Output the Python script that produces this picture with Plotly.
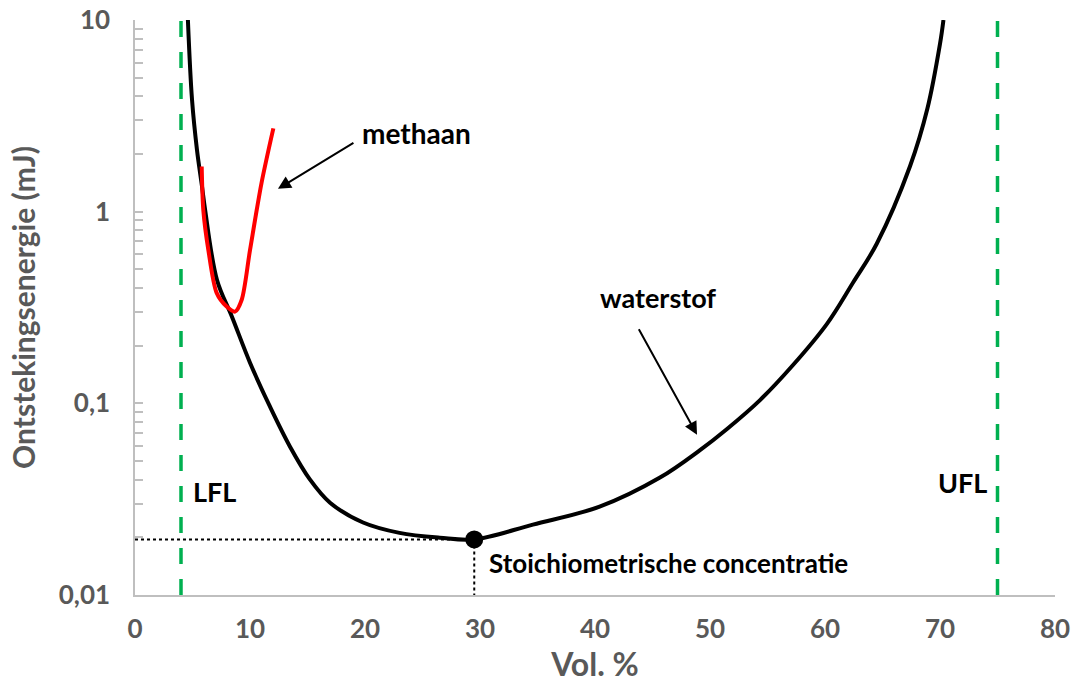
import plotly.graph_objects as go

# Minimum ignition energy versus concentration in air
h2_vol = [4.6, 4.96, 5.39, 5.83, 6.1, 7.13, 8.43, 10.0, 11.74, 13.48, 15.22, 16.96,
          19.83, 23.0, 26.5, 29.5, 34.6, 40.4, 45.65, 49.13, 51.48, 54.35, 57.2, 60.17,
          62.43, 64.5, 67.4, 68.9, 70.0, 70.3]
h2_mj = [10, 3.83, 2.1, 1.35, 1.02, 0.44, 0.283, 0.163, 0.096, 0.0594, 0.040, 0.0303,
         0.0239, 0.0211, 0.0199, 0.0195, 0.0233, 0.0289, 0.041, 0.057, 0.0735, 0.104, 0.158,
         0.26, 0.426, 0.68, 1.73, 3.44, 7.5, 10]

ch4_vol = [5.8, 5.94, 6.38, 7.1, 7.97, 8.7, 9.28, 10.0, 11.0, 12.03]
ch4_mj = [1.72, 1.02, 0.63, 0.377, 0.32, 0.301, 0.347, 0.63, 1.41, 2.72]

stoich_vol = 29.5
stoich_mj = 0.0195
lfl = 4
ufl = 75

x_range = [0, 80]
y_range_mj = [0.01, 10]
x_ticks = [0, 10, 20, 30, 40, 50, 60, 70, 80]
y_ticks = [0.01, 0.1, 1, 10]
y_ticktext = ["0,01", "0,1", "1", "10"]

FONT = "Lato"
GREY = "#595959"
GREEN = "#00B050"

fig = go.Figure()

# LFL / UFL reference lines
for v in (lfl, ufl):
    fig.add_trace(go.Scatter(x=[v, v], y=y_range_mj, mode="lines",
                             line=dict(color=GREEN, width=3.5, dash="16px,15px"),
                             hoverinfo="skip", showlegend=False))

# stoichiometric guide lines
fig.add_trace(go.Scatter(x=[x_range[0], stoich_vol], y=[stoich_mj, stoich_mj], mode="lines",
                         line=dict(color="black", width=2, dash="dot"), showlegend=False))
fig.add_trace(go.Scatter(x=[stoich_vol, stoich_vol], y=[stoich_mj, y_range_mj[0]], mode="lines",
                         line=dict(color="black", width=2, dash="dot"), showlegend=False))

fig.add_trace(go.Scatter(x=h2_vol, y=h2_mj, mode="lines", name="waterstof",
                         line=dict(color="black", width=4, shape="spline", smoothing=1.0),
                         showlegend=False))
fig.add_trace(go.Scatter(x=ch4_vol, y=ch4_mj, mode="lines", name="methaan",
                         line=dict(color="#FF0000", width=4, shape="spline", smoothing=0.8),
                         showlegend=False))
fig.add_trace(go.Scatter(x=[stoich_vol], y=[stoich_mj], mode="markers",
                         marker=dict(color="black", size=18), showlegend=False))

def bold(size, color="black"):
    return dict(family=FONT, size=size, color=color, weight="bold")

fig.add_annotation(x=19.6, y=0.41, xref="x", yref="y", text="methaan", showarrow=False,
                   xanchor="left", yanchor="middle", font=bold(28))
fig.add_annotation(x=40.3, y=-0.449, xref="x", yref="y", text="waterstof", showarrow=False,
                   xanchor="left", yanchor="middle", font=bold(27))
fig.add_annotation(x=30.6, y=-1.831, xref="x", yref="y", text="Stoichiometrische concentratie",
                   showarrow=False, xanchor="left", yanchor="middle", font=bold(26))
fig.add_annotation(x=4.9, y=-1.461, xref="x", yref="y", text="LFL", showarrow=False,
                   xanchor="left", yanchor="middle", font=bold(27))
fig.add_annotation(x=74.3, y=-1.414, xref="x", yref="y", text="UFL", showarrow=False,
                   xanchor="right", yanchor="middle", font=bold(27))

# pointer arrows
arrow = dict(showarrow=True, arrowhead=2, arrowsize=1.3, arrowwidth=2, arrowcolor="black", text="")
fig.add_annotation(x=12.43, y=0.119, xref="x", yref="y", ax=77, ay=-47, **arrow)
fig.add_annotation(x=48.87, y=-1.164, xref="x", yref="y", ax=-59, ay=-107, **arrow)

fig.update_layout(
    width=1075, height=686,
    margin=dict(l=135, r=20, t=20, b=91, autoexpand=False),
    paper_bgcolor="white", plot_bgcolor="white",
    separators=",.",
    font=dict(family=FONT, color=GREY),
)
fig.update_xaxes(
    range=x_range, tickvals=x_ticks, showgrid=False, zeroline=False, automargin=False,
    showline=True, linecolor="#BFBFBF", linewidth=1.5, ticks="",
    tickfont=bold(26, GREY),
    ticklabelstandoff=10,
    title=dict(text="Vol. %", font=bold(32, GREY), standoff=10),
)
fig.update_yaxes(
    type="log", range=[-2, 1], tickvals=y_ticks, ticktext=y_ticktext, showgrid=False,
    zeroline=False, automargin=False, showline=True, linecolor="#BFBFBF", linewidth=1.5,
    ticks="inside", ticklen=8, tickcolor="#BFBFBF", tickwidth=1.5,
    minor=dict(ticks="inside", ticklen=8, tickcolor="#BFBFBF", tickwidth=1.5, dtick="D1"),
    tickfont=bold(26, GREY),
    ticklabelstandoff=18,
    title=dict(text="Ontstekingsenergie (mJ)", font=bold(30, GREY), standoff=14),
)

fig.write_html("out.html")
